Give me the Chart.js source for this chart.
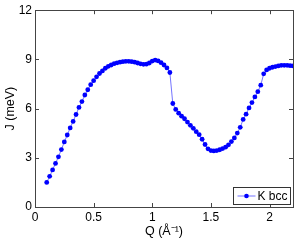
<!DOCTYPE html>
<html>
<head>
<meta charset="utf-8">
<script src="https://cdn.jsdelivr.net/npm/chart.js@4/dist/chart.umd.min.js"></script>
<style>
  html, body { margin: 0; padding: 0; background: #fff; }
  #wrap { width: 300px; height: 240px; position: relative; }
</style>
</head>
<body>
<div id="wrap"><canvas id="chart" width="300" height="240"></canvas></div>
<script>
// momentum transfer Q (1/Angstrom)
const qValues = [
  0.100, 0.125, 0.150, 0.175, 0.200, 0.225, 0.250, 0.275, 0.300, 0.325,
  0.350, 0.375, 0.400, 0.425, 0.450, 0.475, 0.500, 0.525, 0.550, 0.575,
  0.600, 0.625, 0.650, 0.675, 0.700, 0.725, 0.750, 0.775, 0.800, 0.825,
  0.850, 0.875, 0.900, 0.925, 0.950, 0.975, 1.000, 1.025, 1.050, 1.075,
  1.100, 1.125, 1.150, 1.175, 1.200, 1.225, 1.250, 1.275, 1.300, 1.325,
  1.350, 1.375, 1.400, 1.425, 1.450, 1.475, 1.500, 1.525, 1.550, 1.575,
  1.600, 1.625, 1.650, 1.675, 1.700, 1.725, 1.750, 1.775, 1.800, 1.825,
  1.850, 1.875, 1.900, 1.925, 1.950, 1.975, 2.000, 2.025, 2.050, 2.075,
  2.100, 2.125, 2.150, 2.175, 2.200
];
// exchange J (meV)
const jValues = [
  1.50, 1.87, 2.26, 2.66, 3.06, 3.50, 3.97, 4.39, 4.82, 5.22,
  5.64, 6.07, 6.43, 6.83, 7.15, 7.46, 7.70, 7.94, 8.14, 8.30,
  8.46, 8.58, 8.66, 8.74, 8.79, 8.83, 8.86, 8.88, 8.88, 8.86,
  8.83, 8.78, 8.73, 8.70, 8.71, 8.78, 8.90, 8.96, 8.91, 8.80,
  8.66, 8.48, 8.20, 6.31, 5.95, 5.72, 5.54, 5.38, 5.18, 4.98,
  4.80, 4.59, 4.41, 4.13, 3.81, 3.55, 3.44, 3.42, 3.44, 3.49,
  3.56, 3.65, 3.79, 3.99, 4.21, 4.51, 4.86, 5.34, 5.66, 6.04,
  6.37, 6.71, 7.03, 7.43, 8.12, 8.36, 8.46, 8.52, 8.56, 8.60,
  8.64, 8.64, 8.64, 8.62, 8.60
];
const xTicks = [0, 0.5, 1, 1.5, 2];
const yTicks = [0, 3, 6, 9, 12];
const seriesName = 'K bcc';

const FONT = 'Liberation Sans, Arial, sans-serif';
const BLUE = '#0000ff';

// matlab style frame, inward ticks and legend box
const matlabFrame = {
  id: 'matlabFrame',
  afterDraw(chart) {
    const { ctx, chartArea: a, scales } = chart;
    const tl = 4;
    ctx.save();
    ctx.strokeStyle = '#444';
    ctx.lineWidth = 1;
    ctx.strokeRect(Math.round(a.left) + 0.5, Math.round(a.top) + 0.5,
      Math.round(a.right - a.left), Math.round(a.bottom - a.top));
    ctx.beginPath();
    xTicks.forEach(v => {
      const x = Math.round(scales.x.getPixelForValue(v)) + 0.5;
      ctx.moveTo(x, a.bottom); ctx.lineTo(x, a.bottom - tl);
      ctx.moveTo(x, a.top); ctx.lineTo(x, a.top + tl);
    });
    yTicks.forEach(v => {
      const y = Math.round(scales.y.getPixelForValue(v)) + 0.5;
      ctx.moveTo(a.left, y); ctx.lineTo(a.left + tl, y);
      ctx.moveTo(a.right, y); ctx.lineTo(a.right - tl, y);
    });
    ctx.stroke();

    // legend in lower right corner
    const bw = 57, bh = 17;
    const bx = Math.round(a.right - 3 - bw) + 0.5;
    const by = Math.round(a.bottom - 3 - bh) + 0.5;
    ctx.fillStyle = '#fff';
    ctx.fillRect(bx, by, bw, bh);
    ctx.strokeStyle = '#333';
    ctx.strokeRect(bx, by, bw, bh);
    const ly = by + bh / 2;
    ctx.strokeStyle = 'rgba(0,0,255,0.55)';
    ctx.beginPath();
    ctx.moveTo(bx + 4, ly); ctx.lineTo(bx + 22, ly);
    ctx.stroke();
    ctx.fillStyle = BLUE;
    ctx.beginPath();
    ctx.arc(bx + 13, ly, 2.3, 0, Math.PI * 2);
    ctx.fill();
    ctx.fillStyle = '#000';
    ctx.font = '12px ' + FONT;
    ctx.textBaseline = 'middle';
    ctx.textAlign = 'left';
    ctx.fillText(chart.data.datasets[0].label, bx + 24, ly + 0.5);
    ctx.restore();
  }
};

new Chart(document.getElementById('chart'), {
  type: 'line',
  data: {
    datasets: [{
      label: seriesName,
      data: qValues.map((q, i) => ({ x: q, y: jValues[i] })),
      borderColor: 'rgba(0,0,255,0.55)',
      borderWidth: 1,
      pointBackgroundColor: BLUE,
      pointBorderColor: BLUE,
      pointBorderWidth: 0,
      pointRadius: 2.4,
      tension: 0
    }]
  },
  options: {
    responsive: false,
    animation: false,
    devicePixelRatio: 1,
    layout: { padding: { left: 0, right: 7, top: 8, bottom: 0 } },
    plugins: { legend: { display: false }, tooltip: { enabled: false } },
    scales: {
      x: {
        type: 'linear',
        min: 0, max: 2.2,
        afterBuildTicks: s => { s.ticks = xTicks.map(v => ({ value: v })); },
        afterFit: s => { s.height = 33; },
        grid: { display: false, drawTicks: false },
        border: { display: false },
        ticks: {
          color: '#000', padding: 3,
          font: { family: FONT, size: 12 },
          maxRotation: 0,
          callback: v => String(v)
        },
        title: {
          display: true, text: 'Q (Å⁻¹)', color: '#000',
          font: { family: FONT, size: 12.5 },
          padding: { top: 0, bottom: 1 }
        }
      },
      y: {
        type: 'linear',
        min: 0, max: 12,
        afterBuildTicks: s => { s.ticks = yTicks.map(v => ({ value: v })); },
        afterFit: s => { s.width = 35; },
        grid: { display: false, drawTicks: false },
        border: { display: false },
        ticks: {
          color: '#000', padding: 3,
          font: { family: FONT, size: 12 },
          callback: v => String(v)
        },
        title: {
          display: true, text: 'J (meV)', color: '#000',
          font: { family: FONT, size: 12.5 },
          padding: { top: 3, bottom: 0 }
        }
      }
    }
  },
  plugins: [matlabFrame]
});
</script>
</body>
</html>
